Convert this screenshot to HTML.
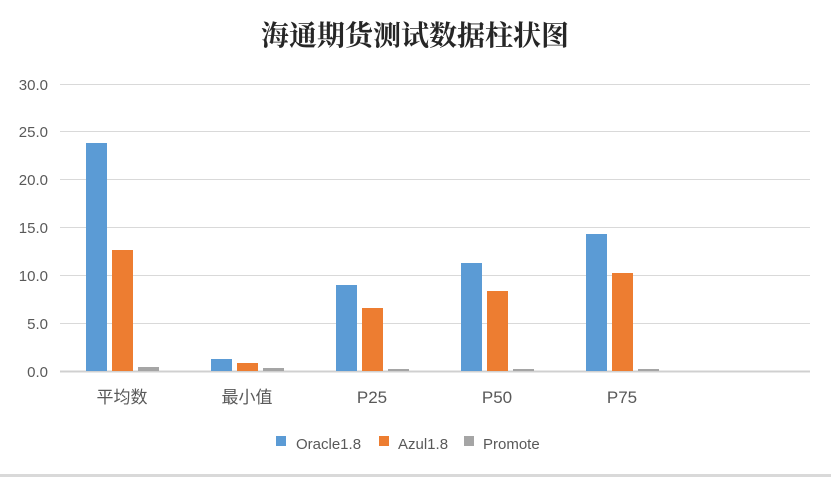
<!DOCTYPE html>
<html><head><meta charset="utf-8"><style>
body{margin:0;background:#fff;}
svg text{font-family:"Liberation Sans","Noto Sans CJK SC",sans-serif;}
</style></head><body>
<svg width="831" height="481" xmlns="http://www.w3.org/2000/svg">
<rect width="831" height="481" fill="#fff"/>
<rect x="0" y="474" width="831" height="3" fill="#d9d9d9"/>
<text x="415" y="45" text-anchor="middle" font-size="28" font-weight="bold" fill="#262626" style="font-family:'Noto Serif CJK SC','Noto Sans CJK SC',serif">海通期货测试数据柱状图</text>
<g stroke="#d9d9d9" stroke-width="1">
<line x1="60" x2="810" y1="84.5" y2="84.5"/>
<line x1="60" x2="810" y1="131.5" y2="131.5"/>
<line x1="60" x2="810" y1="179.5" y2="179.5"/>
<line x1="60" x2="810" y1="227.5" y2="227.5"/>
<line x1="60" x2="810" y1="275.5" y2="275.5"/>
<line x1="60" x2="810" y1="323.5" y2="323.5"/>
</g>
<line x1="60" x2="810" y1="371.5" y2="371.5" stroke="#d0d0d0" stroke-width="2"/>
<g font-size="15" fill="#595959" text-anchor="end">
<text x="48" y="90">30.0</text><text x="48" y="137">25.0</text><text x="48" y="185">20.0</text>
<text x="48" y="233">15.0</text><text x="48" y="281">10.0</text><text x="48" y="329">5.0</text><text x="48" y="377">0.0</text>
</g>
<g fill="#5b9bd5">
<rect x="86" y="143" width="21" height="228"/>
<rect x="211" y="359" width="21" height="12"/>
<rect x="336" y="285" width="21" height="86"/>
<rect x="461" y="263" width="21" height="108"/>
<rect x="586" y="234" width="21" height="137"/>
</g>
<g fill="#ed7d31">
<rect x="112" y="250" width="21" height="121"/>
<rect x="237" y="363" width="21" height="8"/>
<rect x="362" y="308" width="21" height="63"/>
<rect x="487" y="291" width="21" height="80"/>
<rect x="612" y="273" width="21" height="98"/>
</g>
<g fill="#a5a5a5">
<rect x="138" y="367" width="21" height="4"/>
<rect x="263" y="368" width="21" height="3"/>
<rect x="388" y="369" width="21" height="2"/>
<rect x="513" y="369" width="21" height="2"/>
<rect x="638" y="369" width="21" height="2"/>
</g>
<g font-size="17" fill="#595959" text-anchor="middle">
<text x="122" y="403">平均数</text><text x="247" y="403">最小值</text>
<text x="372" y="403">P25</text><text x="497" y="403">P50</text><text x="622" y="403">P75</text>
</g>
<g font-size="15" fill="#595959">
<rect x="276" y="436" width="10" height="10" fill="#5b9bd5"/><text x="296" y="449">Oracle1.8</text>
<rect x="379" y="436" width="10" height="10" fill="#ed7d31"/><text x="398" y="449">Azul1.8</text>
<rect x="464" y="436" width="10" height="10" fill="#a5a5a5"/><text x="483" y="449">Promote</text>
</g>
</svg>
</body></html>
